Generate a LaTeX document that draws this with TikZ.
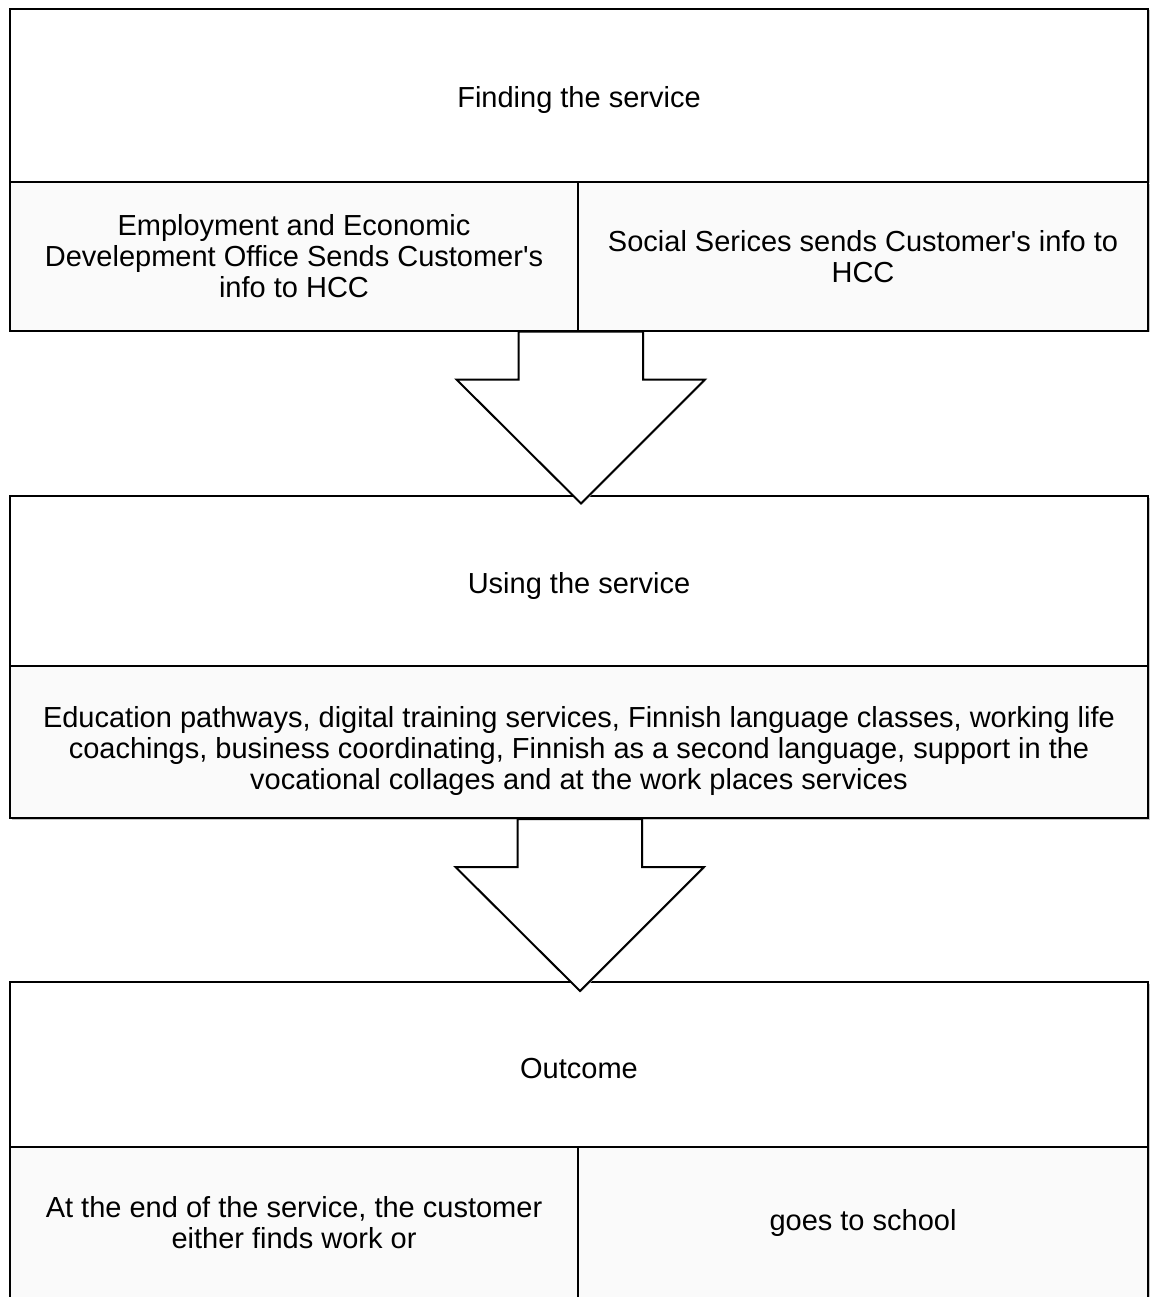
\documentclass[tikz,border=0pt]{standalone}
\usepackage{fontspec}
\setmainfont{Liberation Sans}
\usetikzlibrary{shadows,calc}
\newcommand{\apos}{\textquotesingle}
\newcommand{\titletext}[1]{\raisebox{-4.5pt}[\height][\depth]{#1}}
\begin{document}
\begin{tikzpicture}[x=1pt,y=-1pt,
  panel/.style={draw=black, line width=2pt, fill=white, inner sep=0pt,
    align=center, font=\fontsize{29}{31}\selectfont,
    drop shadow={shadow xshift=1.5pt, shadow yshift=-1.5pt, fill=black!22, opacity=1}},
  subpanel/.style={panel, fill=black!2},
  downarrow/.style={draw=black, line width=2pt, fill=white, line join=miter,
    drop shadow={shadow xshift=1pt, shadow yshift=-1pt, fill=black!22, opacity=1}}]
\useasboundingbox (0,0) rectangle (1151,1297);
\begin{scope}
\clip (0,0) rectangle (1151,1297);

% Stage 1: finding the service
\node[panel, minimum width=1138, minimum height=173] (find) at (579,95.5) {\titletext{Finding the service}};
\node[subpanel, minimum width=568, minimum height=148] (ely) at (294,256.5)
  {Employment and Economic\\Develepment Office Sends Customer\apos s\\info to HCC};
\node[subpanel, minimum width=570, minimum height=148] (soc) at (863,256.5)
  {Social Serices sends Customer\apos s info to\\HCC};

% Stage 2: using the service
\node[panel, minimum width=1138, minimum height=170] (use) at (579,581) {\titletext{Using the service}};
\node[subpanel, minimum width=1138, minimum height=152] (serv) at (579,742) {};
\node[align=center, inner sep=0pt, font=\fontsize{29}{31}\selectfont] (servtext) at (579,751)
  {Education pathways, digital training services, Finnish language classes, working life\\
   coachings, business coordinating, Finnish as a second language, support in the\\
   vocational collages and at the work places services};

% Stage 3: outcome
\node[panel, minimum width=1138, minimum height=165] (out) at (579,1064.5) {\titletext{Outcome}};
\node[subpanel, minimum width=568, minimum height=151] (work) at (294,1222.5)
  {At the end of the service, the customer\\either finds work or};
\node[subpanel, minimum width=570, minimum height=151] (school) at (863,1222.5)
  {goes to school};

% Block arrows between the stages
\coordinate (a1) at (ely.south east);
\draw[downarrow] ($(a1)+(-60.5,0)$) -- ++(0,48) -- ++(-62,0) -- ($(a1)+(2,172)$)
  -- ($(a1)+(126,48)$) -- ++(-62,0) -- ++(0,-48) -- cycle;
\coordinate (a2) at (serv.south);
\draw[downarrow] ($(a2)+(-61.5,0)$) -- ++(0,48) -- ++(-62,0) -- ($(a2)+(1,172)$)
  -- ($(a2)+(125,48)$) -- ++(-62,0) -- ++(0,-48) -- cycle;
\end{scope}
\end{tikzpicture}
\end{document}
